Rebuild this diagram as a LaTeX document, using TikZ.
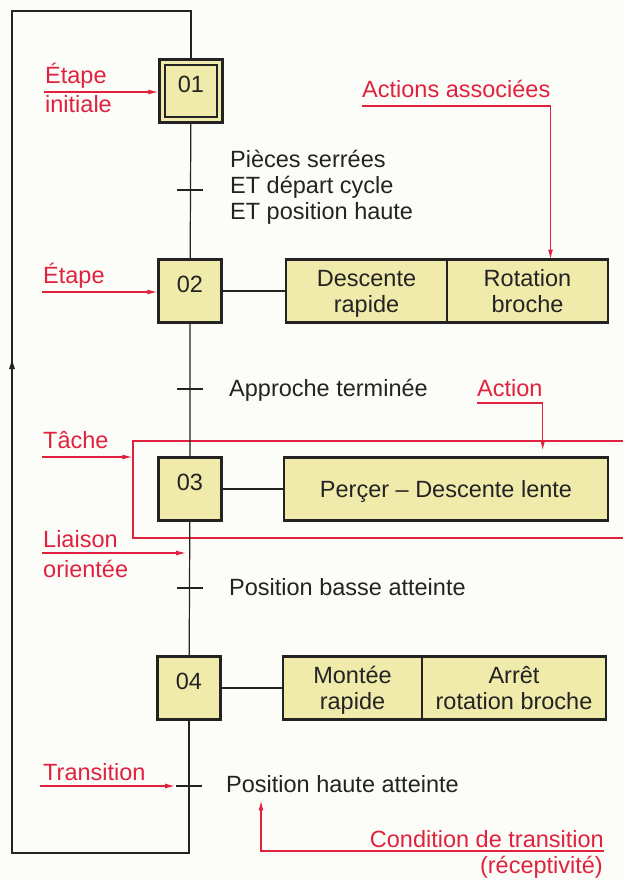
\documentclass[tikz,border=0pt]{standalone}
\usepackage{fontspec}
\setmainfont{Liberation Sans}
\usepackage{xcolor}
\usetikzlibrary{positioning, arrows.meta}

\definecolor{grafred}{RGB}{224,34,62}
\definecolor{grafyellow}{RGB}{240,235,170}
\definecolor{paper}{RGB}{252,252,248}
\definecolor{ink}{RGB}{35,35,35}

\begin{document}
\begin{tikzpicture}[x=1pt, y=-1pt, font=\fontsize{23.5}{26}\selectfont, color=ink,
        stepbox/.style={draw, line width=2.4pt, fill=grafyellow, minimum size=63pt,
                        inner sep=0pt, text height=16.8pt, text depth=14pt},
        actbox/.style={draw, line width=2.4pt, fill=grafyellow, minimum height=63pt,
                       inner sep=0pt, outer sep=0pt, align=center, text depth=0pt},
        link/.style={line width=1.2pt},
        recep/.style={inner sep=0pt, anchor=base west},
        note/.style={text=grafred, inner sep=0pt, anchor=base west},
        callout/.style={draw=grafred, line width=1.2pt, -{Latex[length=10pt, width=5pt]}}]
  \useasboundingbox[fill=paper] (0,0) rectangle (623,881);

  % tache (cadre rouge)
  \node[draw=grafred, line width=1.2pt, minimum width=497pt, minimum height=97pt] (tk) at (381.5,489.5) {};

  % etapes
  \node[stepbox] (s1) at (191,91) {01};
  \draw[line width=2.2pt] ([xshift=7pt, yshift=-7pt]s1.north west) rectangle ([xshift=-7pt, yshift=7pt]s1.south east);
  \node[stepbox] (s2) at (190,291) {02};
  \node[stepbox] (s3) at (190,489) {03};
  \node[stepbox] (s4) at (189,688) {04};

  % actions
  \node[actbox, minimum width=161pt] (a21) at (366.5,291) {Descente\\rapide};
  \node[actbox, minimum width=161pt, right=0pt of a21] (a22) {Rotation\\broche};
  \node[actbox, minimum width=324pt] (a3) at (446,489) {Perçer – Descente lente};
  \node[actbox, minimum width=139pt] (a41) at (352.5,688) {Montée\\rapide};
  \node[actbox, minimum width=184pt, right=0pt of a41] (a42) {Arrêt\\rotation broche};

  \draw[link] (s2.east) -- (a21.west);
  \draw[link] (s3.east) -- (a3.west);
  \draw[link] (s4.east) -- (a41.west);

  % liaisons + bouclage
  \coordinate (lbl) at (12,853);
  \coordinate (ltl) at (12,11);
  \coordinate (larr) at (12,358);
  \draw[link] (s1) -- (s2) -- (s3) -- (s4);
  \draw[link] (s4) -- (s4 |- lbl) -- (lbl) -- (ltl) -- (ltl -| s1) -- (s1);
  \draw[link, -{Latex[length=11pt, width=6pt]}] (lbl) -- (larr);

  % transitions
  \coordinate (t1) at (190,190);
  \coordinate (t2) at (190,389);
  \coordinate (t3) at (190,588);
  \coordinate (t4) at (189,786);
  \foreach \t in {1,...,4}
    \draw[link] ([xshift=-13pt]t\t) -- ([xshift=13pt]t\t);

  \node[recep, anchor=west, align=left] (r1) at (230,187.5) {Pièces serrées\\ET départ cycle\\ET position haute};
  \node[recep] (r2) at (229,396) {Approche terminée};
  \node[recep] (r3) at (229,595) {Position basse atteinte};
  \node[recep] (r4) at (226,792) {Position haute atteinte};

  % legendes
  \node[note] (n1a) at (45,83) {Étape};
  \node[note] (n1b) at (45,112) {initiale};
  \node[note] (n2) at (43,283) {Étape};
  \node[note] (aa) at (362,97) {Actions associées};
  \node[note] (ac) at (477,396) {Action};
  \node[note] (n3) at (43,448) {Tâche};
  \node[note] (n4a) at (43,547) {Liaison};
  \node[note] (n4b) at (43,577) {orientée};
  \node[note] (n5) at (43,780) {Transition};
  \node[note, anchor=base east] (cd) at (604,847) {Condition de transition};
  \node[note, anchor=base east] (cdb) at (603,873) {(réceptivité)};

  \coordinate (c1) at (44,92);
  \coordinate (c2) at (42,292);
  \coordinate (c3) at (42,457);
  \coordinate (c4) at (42,553);
  \coordinate (c5) at (40,786);
  \coordinate (c6) at ([xshift=35pt, yshift=-8pt]r4.south west);

  \draw[callout] (c1) -- (s1.west |- c1);
  \draw[callout] (c2) -- (s2.west |- c2);
  \draw[callout] (c3) -- (c3 -| tk.west);
  \draw[callout, shorten >=4pt] (c4) -- (c4 -| s3);
  \draw[callout, shorten >=14pt] (c5) -- (t4);
  \draw[callout] ([yshift=-9pt]aa.base west) -| (aa.east |- a22.north);
  \draw[callout, shorten >=7pt] ([yshift=-7pt]ac.base west) -| (ac.east |- a3.north);
  \draw[callout] ([yshift=-4pt]cd.base east) -| (c6);
\end{tikzpicture}
\end{document}
